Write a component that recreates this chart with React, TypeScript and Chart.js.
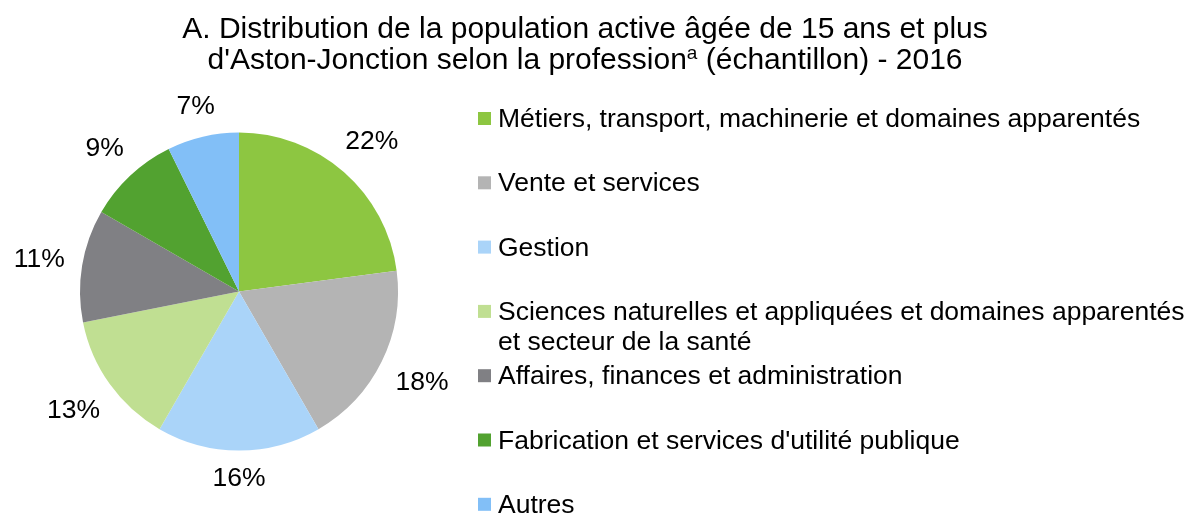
import React, { useEffect, useRef } from "react";
import { Chart, registerables } from "chart.js";

Chart.register(...registerables);

const categories = [
  "Métiers, transport, machinerie et domaines apparentés",
  "Vente et services",
  "Gestion",
  "Sciences naturelles et appliquées et domaines apparentés et secteur de la santé",
  "Affaires, finances et administration",
  "Fabrication et services d'utilité publique",
  "Autres",
];
const values = [22, 18, 16, 13, 11, 9, 7];
const colors = ["#8DC641", "#B4B4B4", "#AAD4F9", "#C0DF92", "#808084", "#52A230", "#82BFF7"];

const titleLine1 = "A. Distribution de la population active âgée de 15 ans et plus";
const titleLine2a = "d'Aston-Jonction selon la profession";
const titleSup = "a";
const titleLine2b = " (échantillon) - 2016";

const FONT = '"Liberation Sans", Arial, sans-serif';

const W = 1190;
const H = 516;

function wrapText(ctx: CanvasRenderingContext2D, text: string, maxWidth: number): string[] {
  const words = text.split(" ");
  const lines: string[] = [];
  let cur = "";
  for (const w of words) {
    const test = cur ? cur + " " + w : w;
    if (ctx.measureText(test).width > maxWidth && cur) {
      lines.push(cur);
      cur = w;
    } else {
      cur = test;
    }
  }
  if (cur) lines.push(cur);
  return lines;
}

const customPlugin = {
  id: "customDecor",
  afterDraw(chart: any) {
    const ctx: CanvasRenderingContext2D = chart.ctx;
    ctx.save();

    // Title
    ctx.fillStyle = "#000";
    ctx.textBaseline = "alphabetic";
    ctx.font = `30px ${FONT}`;
    ctx.textAlign = "center";
    const titleCenter = 585;
    ctx.fillText(titleLine1, titleCenter, 37.5);
    ctx.textAlign = "left";
    const wA = ctx.measureText(titleLine2a).width;
    const wB = ctx.measureText(titleLine2b).width;
    ctx.font = `19px ${FONT}`;
    const wS = ctx.measureText(titleSup).width;
    const total = wA + wS + wB;
    let x0 = titleCenter - total / 2;
    ctx.font = `30px ${FONT}`;
    ctx.fillText(titleLine2a, x0, 68.5);
    ctx.font = `19px ${FONT}`;
    ctx.fillText(titleSup, x0 + wA, 59);
    ctx.font = `30px ${FONT}`;
    ctx.fillText(titleLine2b, x0 + wA + wS, 68.5);

    // Legend
    ctx.font = `26.5px ${FONT}`;
    const legX = 478;
    const textX = 498;
    const base0 = 127;
    const step = 64.3;
    categories.forEach((label, i) => {
      const base = base0 + i * step;
      ctx.fillStyle = colors[i];
      ctx.fillRect(legX, base - 15, 13, 13);
      ctx.fillStyle = "#000";
      const lines = wrapText(ctx, label, W - textX - 2);
      lines.forEach((ln, j) => {
        ctx.fillText(ln, textX, base + j * 30);
      });
    });

    // Data labels outside the pie
    const meta = chart.getDatasetMeta(0);
    ctx.font = `26.5px ${FONT}`;
    ctx.textAlign = "center";
    ctx.textBaseline = "middle";
    ctx.fillStyle = "#000";
    meta.data.forEach((arc: any, i: number) => {
      const p = arc.getProps(["x", "y", "startAngle", "endAngle", "outerRadius"], true);
      const mid = (p.startAngle + p.endAngle) / 2;
      const ux = Math.cos(mid);
      const uy = Math.sin(mid);
      const txt = values[i] + "%";
      const w = ctx.measureText(txt).width;
      const dist = p.outerRadius + 16.5 + Math.abs(ux) * (w / 2) + Math.abs(uy) * 11;
      ctx.fillText(txt, p.x + ux * dist, p.y + uy * dist + 1);
    });

    ctx.restore();
  },
};

export default function App() {
  const canvasRef = useRef<HTMLCanvasElement | null>(null);

  useEffect(() => {
    const canvas = canvasRef.current;
    if (!canvas) return;
    const chart = new Chart(canvas, {
      type: "pie",
      data: {
        labels: categories,
        datasets: [
          {
            data: values,
            backgroundColor: colors,
            borderWidth: 0,
          },
        ],
      },
      options: {
        responsive: false,
        animation: false,
        devicePixelRatio: 1,
        layout: {
          padding: { left: 80, right: W - 398, top: 132.5, bottom: H - 450.5 },
        },
        plugins: {
          legend: { display: false },
          title: { display: false },
          tooltip: { enabled: false },
        },
      },
      plugins: [customPlugin],
    });
    return () => chart.destroy();
  }, []);

  return (
    <div style={{ position: "fixed", left: 0, top: 0, width: W, height: H, background: "#fff" }}>
      <canvas ref={canvasRef} width={W} height={H} style={{ display: "block" }} />
    </div>
  );
}
